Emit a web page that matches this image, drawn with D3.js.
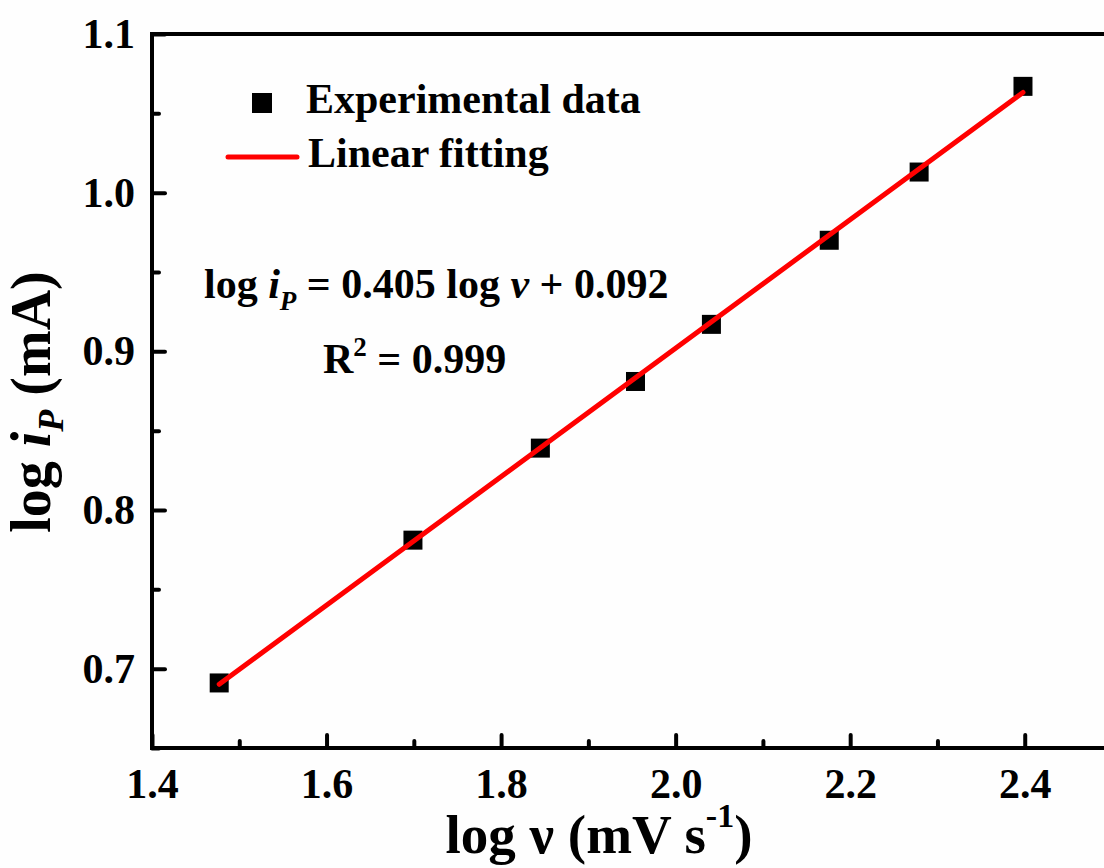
<!DOCTYPE html>
<html>
<head>
<meta charset="utf-8">
<script src="https://cdn.jsdelivr.net/npm/d3@7"></script>
<style>
  html, body { margin: 0; padding: 0; background: #fefefe; }
  svg { display: block; font-family: "Liberation Serif", "Times New Roman", serif; font-weight: bold; }
</style>
</head>
<body>
<div id="chart"></div>
<script>
// measured data: log of scan rate vs log of peak current
var logV  = [1.477, 1.699, 1.845, 1.954, 2.041, 2.176, 2.279, 2.398];
var logIp = [0.691, 0.781, 0.839, 0.881, 0.917, 0.970, 1.013, 1.067];

// linear fit
var fitSlope     = 0.405;
var fitIntercept = 0.092;

var xTicks = [1.4, 1.6, 1.8, 2.0, 2.2, 2.4];
var xMinor = [1.5, 1.7, 1.9, 2.1, 2.3, 2.5];
var yTicks = [0.7, 0.8, 0.9, 1.0, 1.1];
var yMinor = [0.65, 0.75, 0.85, 0.95, 1.05];

var W = 1104, H = 868;
var margin = { top: 34, left: 152 };
var iW = 960, iH = 714;

var svg = d3.select("#chart").append("svg")
    .attr("width", W).attr("height", H);

var g = svg.append("g")
    .attr("transform", "translate(" + margin.left + "," + margin.top + ")");

var x = d3.scaleLinear().domain([1.4, 2.5]).range([0, iW]);
var y = d3.scaleLinear().domain([0.65, 1.1]).range([iH, 0]);

/* ── axes ─────────────────────────────────────────────── */
function styleAxis(sel) {
    sel.select(".domain").remove();
    sel.selectAll("line")
        .attr("stroke", "#000")
        .attr("stroke-width", 4)
        .attr("stroke-linecap", "round");
    sel.selectAll("text")
        .attr("fill", "#000")
        .style("font-family", "'Liberation Serif', serif")
        .style("font-weight", "bold")
        .style("font-size", "42px");
}

g.append("g")
    .attr("transform", "translate(0," + iH + ")")
    .call(d3.axisBottom(x).tickValues(xTicks).tickSize(-13).tickPadding(20)
        .tickFormat(d3.format(".1f")))
    .call(styleAxis);

g.append("g")
    .attr("transform", "translate(0," + iH + ")")
    .call(d3.axisBottom(x).tickValues(xMinor).tickSize(-7).tickFormat(""))
    .call(styleAxis);

g.append("g")
    .call(d3.axisLeft(y).tickValues(yTicks).tickSize(-13).tickPadding(17)
        .tickFormat(d3.format(".1f")))
    .call(styleAxis);

g.append("g")
    .call(d3.axisLeft(y).tickValues(yMinor).tickSize(-7).tickFormat(""))
    .call(styleAxis);

// frame
g.append("rect")
    .attr("width", iW).attr("height", iH)
    .attr("fill", "none")
    .attr("stroke", "#000")
    .attr("stroke-width", 4);

/* ── points ───────────────────────────────────────────── */
var S = 19;
g.selectAll(".pt")
    .data(logV)
    .enter().append("rect")
    .attr("class", "pt")
    .attr("x", function (d) { return x(d) - S / 2; })
    .attr("y", function (d, i) { return y(logIp[i]) - S / 2; })
    .attr("width", S).attr("height", S)
    .attr("fill", "#000");

/* ── fit line (on top of squares) ─────────────────────── */
var x0 = logV[0], x1 = logV[logV.length - 1];
g.append("line")
    .attr("x1", x(x0)).attr("y1", y(fitSlope * x0 + fitIntercept))
    .attr("x2", x(x1)).attr("y2", y(fitSlope * x1 + fitIntercept))
    .attr("stroke", "#f00")
    .attr("stroke-width", 5)
    .attr("stroke-linecap", "round");

/* ── legend ───────────────────────────────────────────── */
svg.append("rect")
    .attr("x", 252).attr("y", 93)
    .attr("width", 20).attr("height", 20)
    .attr("fill", "#000");
svg.append("text")
    .attr("x", 306).attr("y", 113)
    .style("font-size", "42px")
    .text("Experimental data");

svg.append("line")
    .attr("x1", 228).attr("x2", 297)
    .attr("y1", 157).attr("y2", 157)
    .attr("stroke", "#f00")
    .attr("stroke-width", 5)
    .attr("stroke-linecap", "round");
svg.append("text")
    .attr("x", 308).attr("y", 167)
    .style("font-size", "42px")
    .text("Linear fitting");

/* ── equation ─────────────────────────────────────────── */
var eq = svg.append("text")
    .attr("x", 204).attr("y", 298)
    .style("font-size", "42px");
eq.append("tspan").text("log ");
eq.append("tspan").style("font-style", "italic").text("i");
eq.append("tspan").style("font-style", "italic").style("font-size", "27px")
    .attr("dy", 12).text("P");
eq.append("tspan").attr("dy", -12).text(" = 0.405 log ");
eq.append("tspan").style("font-style", "italic").text("v");
eq.append("tspan").text(" + 0.092");

var r2 = svg.append("text")
    .attr("x", 323).attr("y", 373)
    .style("font-size", "42px");
r2.append("tspan").text("R");
r2.append("tspan").style("font-size", "27px").attr("dy", -17).text("2");
r2.append("tspan").attr("dy", 17).text(" = 0.999");

/* ── axis titles ──────────────────────────────────────── */
var xt = svg.append("text")
    .attr("x", 599).attr("y", 853)
    .attr("text-anchor", "middle")
    .style("font-size", "55px");
xt.append("tspan").text("log \u03bd (mV s");
xt.append("tspan").style("font-size", "34px").attr("dy", -26).text("-1");
xt.append("tspan").attr("dy", 26).text(")");

var yt = svg.append("text")
    .attr("transform", "translate(50,402) rotate(-90)")
    .attr("text-anchor", "middle")
    .style("font-size", "56px");
yt.append("tspan").text("log ");
yt.append("tspan").style("font-style", "italic").text("i");
yt.append("tspan").style("font-style", "italic").style("font-size", "36px")
    .attr("dy", 13).text("P");
yt.append("tspan").attr("dy", -13).text(" (mA)");
</script>
</body>
</html>
